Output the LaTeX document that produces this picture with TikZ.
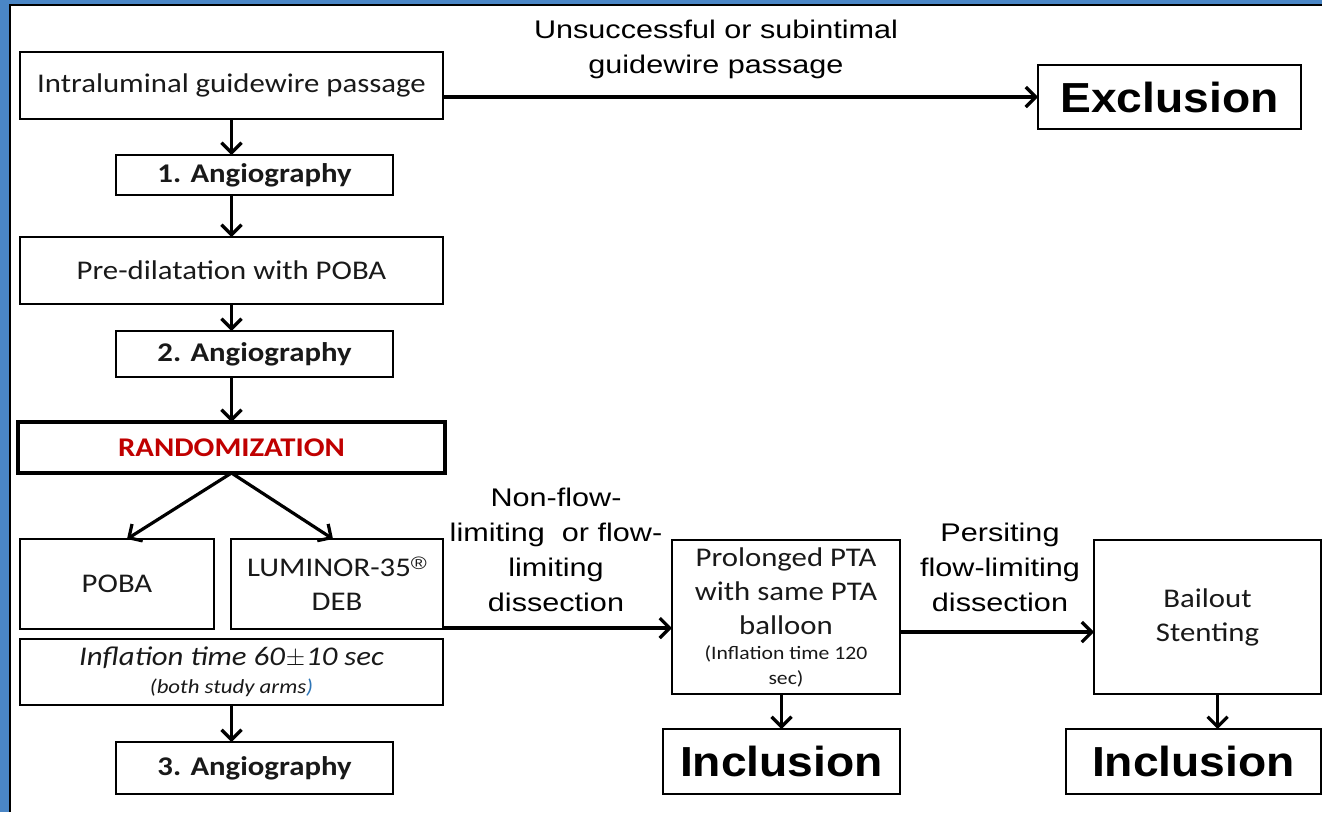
\documentclass[tikz,border=0pt]{standalone}
\usepackage{fontspec}
\setmainfont{Carlito}[FakeStretch=1.14]
\newfontfamily\arialf{Liberation Sans}[FakeStretch=1.2]
\newfontfamily\arialb{Liberation Sans}[FakeStretch=1.1]
\usetikzlibrary{arrows.meta,calc}
\definecolor{frameblue}{RGB}{74,134,198}
\definecolor{randred}{RGB}{192,0,0}
\definecolor{txt}{RGB}{25,25,25}
\definecolor{pblue}{RGB}{46,117,182}
\begin{document}
\begin{tikzpicture}[x=1pt,y=-1pt,
  box/.style={draw=black, line width=2pt, inner sep=0pt, outer sep=0pt, align=center, text=txt, font=\fontsize{27}{34}\selectfont},
  boldbox/.style={box, font=\bfseries\fontsize{27}{34}\selectfont},
  arr/.style={line width=3.2pt, -{Straight Barb[length=10pt,width=20pt,line width=3.2pt]}},
  lbl/.style={align=center, font=\arialf\fontsize{25.5}{35}\selectfont, inner sep=0pt, text=black},
  big/.style={font=\arialb\bfseries\fontsize{42}{48}\selectfont, text=black}
]
\useasboundingbox (0,0) rectangle (1322,812);
% frame
\fill[white] (0,0) rectangle (1322,812);
\fill[frameblue] (0,0) rectangle (9,812);
\fill[frameblue] (0,0) rectangle (1322,4);
\draw[line width=1.8pt, black] (9.9,812) -- (9.9,4.9) -- (1322,4.9);

% left column
\node[box, minimum width=423pt, minimum height=67pt] (intra) at (231.5,85.5) {Intraluminal guidewire passage};
\node[boldbox, minimum width=277pt, minimum height=40pt] (ang1) at (254.5,175) {1. Angiography};
\node[box, minimum width=423pt, minimum height=67pt] (predil) at (231.5,270.5) {Pre-dilatation with POBA};
\node[boldbox, minimum width=277pt, minimum height=46pt] (ang2) at (254.5,354) {2. Angiography};
\node[boldbox, line width=4.5pt, minimum width=427pt, minimum height=51pt, text=randred] (rand) at (231.5,447.5) {RANDOMIZATION};
\node[box, minimum width=194pt, minimum height=90pt] (poba) at (117,584) {POBA};
\node[box, minimum width=212pt, minimum height=90pt] (lum) at (337,584) {LUMINOR-35\raisebox{7pt}{\arialf\fontsize{18}{18}\selectfont ®}\\DEB};
\node[box, minimum width=423pt, minimum height=66pt, font=\itshape\fontsize{27}{34}\selectfont] (infl) at (231.5,672) {Inflation time 60\kern1pt$\pm$\kern1pt10 sec\\[-6pt]{\fontsize{20}{22}\selectfont (both study arms\textcolor{pblue}{)}}};
\node[boldbox, minimum width=277pt, minimum height=52pt] (ang3) at (254.5,768) {3. Angiography};

% right part
\node[box, minimum width=263pt, minimum height=64pt, big] (excl) at (1169.5,97) {Exclusion};
\node[box, minimum width=228pt, minimum height=154pt] (prol) at (786,617) {Prolonged PTA\\with same PTA\\balloon\\[-9pt]{\fontsize{19}{23}\selectfont (Inflation time 120}\\[-9pt]{\fontsize{19}{23}\selectfont sec)}};
\node[box, minimum width=237pt, minimum height=65pt, big] (inc1) at (781.5,761.5) {Inclusion};
\node[box, minimum width=227pt, minimum height=154pt] (bail) at (1207.5,617) {Bailout\\Stenting};
\node[box, minimum width=255pt, minimum height=65pt, big] (inc2) at (1193.5,761.5) {Inclusion};

% labels
\node[lbl] (l1) at (716,49) {Unsuccessful or subintimal\\guidewire passage};
\node[lbl] (l2) at (556,550) {Non-flow-\\limiting~~or flow-\\limiting\\dissection};
\node[lbl] (l3) at (1000,567) {Persiting\\flow-limiting\\dissection};

% connectors
\draw[arr] (intra.east |- excl.west) -- (excl.west);
\draw[arr] (intra.south) -- (intra.south |- ang1.north);
\draw[arr] (intra.south |- ang1.south) -- (intra.south |- predil.north);
\draw[arr] (predil.south) -- (predil.south |- ang2.north);
\draw[arr] (predil.south |- ang2.south) -- (rand.north);
\draw[arr] (rand.south) -- ($(poba.north)+(10,0)$);
\draw[arr] (rand.south) -- ($(lum.north)+(-4,0)$);
\draw[arr] (infl.south) -- (infl.south |- ang3.north);
\draw[arr] ($(lum.south east)+(0,-1)$) -- ($(prol.west |- lum.south east)+(0,-1)$);
\draw[arr] ($(prol.east)+(0,15)$) -- ($(bail.west)+(0,15)$);
\draw[arr] (prol.south -| inc1.north) -- (inc1.north);
\draw[arr] ($(bail.south)+(10,0)$) -- ($(bail.south |- inc2.north)+(10,0)$);
\end{tikzpicture}
\end{document}
